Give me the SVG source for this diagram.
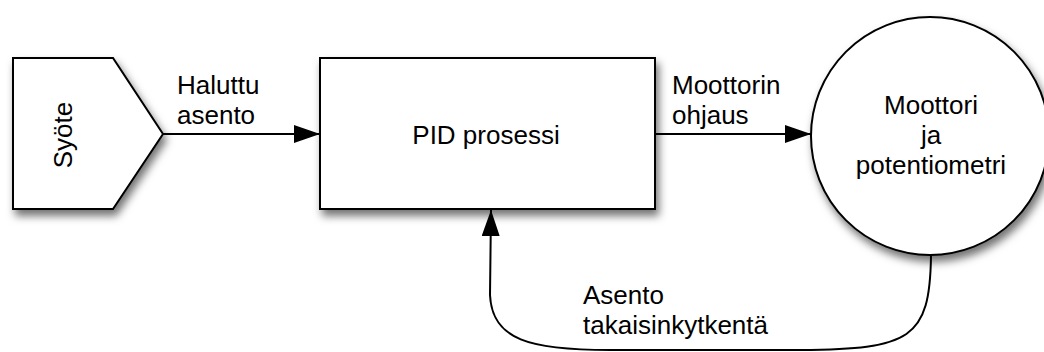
<svg xmlns="http://www.w3.org/2000/svg" width="1044" height="352" viewBox="0 0 1044 352">
  <defs>
    <filter id="shadow" x="-20%" y="-20%" width="140%" height="150%">
      <feDropShadow dx="3" dy="6" stdDeviation="4" flood-color="#000" flood-opacity="0.55"/>
    </filter>
    <marker id="arrow" viewBox="0 0 26 18" refX="26" refY="9" markerWidth="26" markerHeight="18" markerUnits="userSpaceOnUse" orient="auto">
      <path d="M0,0 L26,9 L0,18 Z" fill="#000"/>
    </marker>
  </defs>
  <style>
    .shape { fill: #fff; stroke: #000; stroke-width: 2; filter: url(#shadow); }
    .edge { fill: none; stroke: #000; stroke-width: 2; marker-end: url(#arrow); }
    text { font-family: "Liberation Sans", Arial, sans-serif; font-size: 26px; fill: #000; }
    .c { text-anchor: middle; }
  </style>
  <rect width="1044" height="352" fill="#fff"/>

  <g id="syote">
    <path class="shape" d="M13,58 L113,58 L163,134 L113,209 L13,209 Z"/>
    <text class="c" transform="translate(72,135) rotate(-90)">Syöte</text>
  </g>

  <g id="pid">
    <rect class="shape" x="320" y="58" width="335" height="151"/>
    <text class="c" x="486" y="144">PID prosessi</text>
  </g>

  <g id="moottori">
    <circle class="shape" cx="930" cy="136" r="119"/>
    <text class="c" x="931" y="114">Moottori</text>
    <text class="c" x="931" y="144">ja</text>
    <text class="c" x="931" y="174">potentiometri</text>
  </g>

  <g id="connectors">
    <path class="edge" d="M163,134 L320,134"/>
    <path class="edge" d="M655,134 L811,134"/>
    <!-- feedback loop: motor bottom, along the floor, back up into the PID block -->
    <path class="edge" d="M931,255 C930,340 910,349 800,350 L610,350 C530,350 492,340 490,295 L491,210"/>
  </g>

  <g id="labels">
    <text x="177" y="94">Haluttu</text>
    <text x="177" y="124">asento</text>
    <text x="672" y="94">Moottorin</text>
    <text x="672" y="124">ohjaus</text>
    <text x="583" y="304">Asento</text>
    <text x="583" y="334">takaisinkytkentä</text>
  </g>
</svg>
